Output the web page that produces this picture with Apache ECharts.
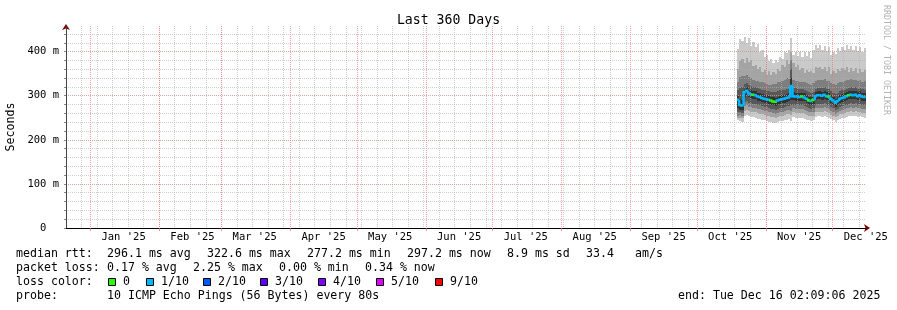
<!DOCTYPE html>
<html><head><meta charset="utf-8">
<script src="https://cdn.jsdelivr.net/npm/echarts@6/dist/echarts.min.js"></script>
<style>html,body{margin:0;padding:0;background:#fff}#c{width:897px;height:310px}</style>
</head><body><div id="c"></div><script>
const MONO = 'DejaVu Sans Mono';
const DAY = 86400000;

// ---- axis range and tick labels ----
const rangeStart = '2024-12-21T02:09:06Z';
const rangeEnd = '2025-12-16T02:09:06Z';
const monthStarts = ['2025-01-01','2025-02-01','2025-03-01','2025-04-01','2025-05-01','2025-06-01','2025-07-01','2025-08-01','2025-09-01','2025-10-01','2025-11-01','2025-12-01'];
const monthLabels = ["Jan '25","Feb '25","Mar '25","Apr '25","May '25","Jun '25","Jul '25","Aug '25","Sep '25","Oct '25","Nov '25","Dec '25"];
const firstWeekLine = '2024-12-28';
const yTickValues = [0, 100, 200, 300, 400];
const yTickLabels = ['0  ', '100 m', '200 m', '300 m', '400 m'];

// ---- data: one bin per day, sorted ping RTTs (ms) ----
const firstDay = '2025-10-19';
const ping1 = [244,242,241,254,256,253,252,251,250,248, 247,246,244,243,241,240,239,238,240,242, 243,244,246,247,243,251,250,250,249,250, 248,246,244,243,245,251,253,253,252,254, 251,250,247,244,241,244,248,249,250,252, 254,255,254,255,252,254,251,250];
const ping2 = [250,250,249,266,268,265,264,263,262,260, 259,258,256,255,253,252,251,250,252,254, 255,256,258,259,256,262,261,261,260,261, 259,257,254,253,255,262,264,264,263,265, 262,261,257,254,251,254,258,259,260,262, 264,265,264,265,262,264,261,260];
const ping3 = [255,256,255,276,278,275,274,273,272,270, 269,268,266,265,263,262,260,259,261,263, 264,265,267,268,266,271,270,270,269,270, 268,266,263,262,264,271,273,273,272,274, 271,270,266,263,259,262,266,268,269,271, 273,274,273,274,271,273,270,269];
const ping4 = [262,262,261,285,288,284,283,282,281,279, 278,276,275,274,272,270,269,268,270,272, 273,274,276,277,278,280,279,279,278,279, 277,275,271,270,272,280,282,282,281,283, 280,279,274,271,267,270,275,277,278,280, 282,283,282,283,280,282,279,278];
const ping5 = [272,268,267,298,301,296,294,293,292,289, 288,286,284,283,282,280,278,277,280,282, 283,284,286,287,290,290,289,289,288,289, 287,284,280,279,281,290,292,292,291,293, 290,289,283,280,275,279,284,286,287,290, 292,293,292,293,290,292,289,288];
const ping6 = [300,292,290,316,319,314,312,311,310,307, 306,304,302,301,300,298,296,295,298,300, 301,302,304,305,340,308,307,307,306,307, 305,302,298,297,299,308,310,310,309,311, 308,307,301,298,293,297,302,304,305,308, 310,311,310,311,308,310,307,306];
const ping7 = [312,318,320,326,328,324,322,320,319,317, 316,314,312,311,310,309,308,308,310,312, 313,314,316,316,360,318,317,316,315,315, 314,311,308,307,309,316,318,318,317,319, 316,315,310,307,303,307,311,313,314,316, 318,319,318,319,316,318,315,314];
const ping8 = [330,342,345,344,346,342,340,336,334,333, 331,330,328,326,325,324,326,327,330,332, 334,336,340,338,380,336,334,333,332,330, 331,328,327,325,328,334,336,335,336,337, 334,333,328,326,324,328,331,332,334,335, 336,337,335,336,333,335,332,333];
const ping9 = [360,378,384,374,386,376,380,368,370,360, 364,354,358,348,356,346,354,350,360,356, 370,366,380,372,400,374,366,370,358,362, 352,358,354,356,352,366,362,364,360,366, 356,364,350,356,352,360,356,362,358,364, 354,362,356,362,352,360,354,358];
const ping10 = [405,428,424,432,420,430,412,422,410,418, 400,404,388,392,378,384,374,382,376,388, 384,400,396,404,430,392,400,390,398,388, 398,390,400,386,404,416,408,414,404,412, 402,410,392,398,394,408,402,410,404,414, 406,412,404,413,402,410,400,408];
const medianRtt = [291,279,278,308,311,305,303,302,301,298, 297,295,293,292,291,289,287,286,289,291, 292,293,295,296,322,299,298,298,297,298, 296,293,289,288,290,299,301,301,300,302, 299,298,292,289,284,288,293,295,296,299, 301,302,301,302,299,301,298,297];
const lossCount = [1,1,1,1,1,1,1,0,1,1, 1,1,1,1,1,0,0,0,1,1, 1,1,1,1,1,1,1,1,1,0, 1,1,0,1,0,1,1,1,1,1, 1,0,1,1,1,1,1,1,1,1, 0,1,1,1,1,1,1,1];

// ---- legend texts ----
const lossLegendLabels = ['0','1/10','2/10','3/10','4/10','5/10','9/10'];
const lossColors = ['#26ff00','#00b8ff','#0059ff','#5e00ff','#7e00ff','#dd00ff','#ff0000'];
const rttStats = ['296.1 ms avg','322.6 ms max','277.2 ms min','297.2 ms now','8.9 ms sd','33.4','am/s'];
const lossStats = ['0.17 % avg','2.25 % max','0.00 % min','0.34 % now'];
const probeText = '10 ICMP Echo Pings (56 Bytes) every 80s';
const endText = 'end: Tue Dec 16 02:09:06 2025';
const smokeGrays = ['#cacaca','#a4a4a4','#7e7e7e','#585858','#323232'];

// ---- build ----
const tStart = Date.parse(rangeStart), tEnd = Date.parse(rangeEnd);
const d0 = Date.parse(firstDay + 'T00:00:00Z');
const monthTs = monthStarts.map(s => Date.parse(s + 'T00:00:00Z'));
const monthMid = monthTs.map(t => t + 15 * DAY);
const labelByTs = {};
monthMid.forEach((t, i) => { labelByTs[t] = monthLabels[i]; });
const weekTs = [];
for (let t = Date.parse(firstWeekLine + 'T00:00:00Z'); t < tEnd; t += 7 * DAY) weekTs.push(t);

const pings = [ping1,ping2,ping3,ping4,ping5,ping6,ping7,ping8,ping9,ping10];
const smokeData = medianRtt.map((_, k) => [d0 + k * DAY].concat(pings.map(p => p[k])));
const medData = medianRtt.map((m, k) => [d0 + k * DAY, m, lossCount[k]]);

const minorGrid = {color: 'rgba(175,175,175,0.6)', width: 1, type: [1, 1]};
const majorGrid = {color: 'rgba(255,90,90,0.55)', width: 1, type: [1, 1]};

const graphics = [];
function txt(x, y, s, extra) {
  graphics.push({type: 'text', x: x, y: y, silent: true,
    style: Object.assign({text: s, font: '11.6px "' + MONO + '"', fill: '#000', verticalAlign: 'middle', align: 'left'}, extra || {})});
}
txt(16, 254, 'median rtt:');
[107, 207, 307, 407, 507, 586, 635].forEach((x, i) => txt(x, 254, rttStats[i]));
txt(16, 268, 'packet loss:');
[107, 193, 279, 365].forEach((x, i) => txt(x, 268, lossStats[i]));
txt(16, 282, 'loss color:');
[108, 146, 203, 260, 318, 376, 435].forEach((x, i) => {
  graphics.push({type: 'rect', silent: true, shape: {x: x + 0.5, y: 278.5, width: 7, height: 7},
    style: {fill: lossColors[i], stroke: '#000', lineWidth: 1}});
  txt(x + 15, 282, lossLegendLabels[i]);
});
txt(16, 296, 'probe:');
txt(107, 296, probeText);
txt(678, 296, endText);
graphics.push({type: 'text', x: 886, y: 60, rotation: -Math.PI / 2, silent: true,
  style: {text: 'RRDTOOL / TOBI OETIKER', font: '8.3px "' + MONO + '"', fill: '#b4b4b4', align: 'center', verticalAlign: 'middle'}});

const hiddenAxis = {axisLine: {show: false}, axisLabel: {show: false}};
const chart = echarts.init(document.getElementById('c'), null, {renderer: 'canvas'});
chart.setOption({
  animation: false,
  backgroundColor: '#fff',
  title: {text: 'Last 360 Days', left: 'center', top: 9,
    textStyle: {fontFamily: MONO, fontSize: 13.2, fontWeight: 'normal', color: '#000'}},
  grid: {left: 66, top: 26, width: 800, height: 202, containLabel: false, outerBoundsMode: 'none'},
  xAxis: [{
    type: 'value', min: tStart, max: tEnd, z: 8,
    axisLine: {show: true, lineStyle: {color: '#000', width: 1}},
    axisTick: {show: true, customValues: monthTs, length: 3, lineStyle: {color: 'rgba(240,110,110,0.8)'}},
    axisLabel: {show: true, customValues: monthMid, margin: 4, color: '#000', fontFamily: MONO, fontSize: 10.5,
      formatter: v => labelByTs[v] || ''},
    splitLine: {show: false}
  }, {
    type: 'value', min: tStart, max: tEnd, z: 7,
    axisLine: {show: true, symbol: ['none', 'arrow'], symbolSize: [6, 6], symbolOffset: [0, 4], lineStyle: {color: '#7a0000', width: 1}},
    axisTick: {show: false}, axisLabel: {show: false}, splitLine: {show: false}, position: 'bottom'
  }, Object.assign({
    type: 'value', min: tStart, max: tEnd, z: 5,
    axisTick: {show: false, customValues: weekTs},
    splitLine: {show: true, lineStyle: minorGrid}
  }, hiddenAxis), Object.assign({
    type: 'value', min: tStart, max: tEnd, z: 6,
    axisTick: {show: false, customValues: monthTs},
    splitLine: {show: true, lineStyle: majorGrid}
  }, hiddenAxis)],
  yAxis: [{
    type: 'value', min: 0, max: 458, interval: 20, z: 8,
    name: 'Seconds', nameLocation: 'middle', nameRotate: 90, nameGap: 45,
    nameTextStyle: {fontFamily: MONO, fontSize: 11.6, color: '#000'},
    axisLine: {show: true, lineStyle: {color: '#444', width: 1}},
    axisTick: {show: true, length: 2, lineStyle: {color: '#888'}},
    axisLabel: {margin: 7, color: '#000', fontFamily: MONO, fontSize: 10.5, showMaxLabel: false,
      formatter: v => { const i = yTickValues.indexOf(v); return i >= 0 ? yTickLabels[i] : ''; }},
    splitLine: {show: true, showMinLine: false, showMaxLine: false, lineStyle: minorGrid}
  }, {
    type: 'value', min: 0, max: 458, z: 7, position: 'left',
    axisLine: {show: true, symbol: ['none', 'arrow'], symbolSize: [6, 6], symbolOffset: [0, 2], lineStyle: {color: '#7a0000', width: 1}},
    axisTick: {show: false}, axisLabel: {show: false}, splitLine: {show: false}
  }, Object.assign({
    type: 'value', min: 0, max: 458, interval: 100, z: 6,
    axisTick: {show: false},
    splitLine: {show: true, showMinLine: false, showMaxLine: false, lineStyle: majorGrid}
  }, hiddenAxis)],
  series: [{
    type: 'custom', name: 'smoke', z: 2, silent: true,
    data: smokeData,
    encode: {x: 0, y: [1, 10]},
    renderItem: (params, api) => {
      const t = api.value(0);
      const xa = Math.round(api.coord([t, 0])[0]);
      const xb = Math.round(api.coord([Math.min(t + DAY, tEnd), 0])[0]);
      const children = [];
      for (let b = 0; b < 5; b++) {
        const lo = api.value(1 + b), hi = api.value(10 - b);
        const ya = Math.round(api.coord([t, hi])[1]);
        const yb = Math.round(api.coord([t, lo])[1]);
        children.push({type: 'rect', shape: {x: xa, y: ya, width: xb - xa, height: yb - ya}, style: {fill: smokeGrays[b]}});
      }
      return {type: 'group', children: children};
    }
  }, {
    type: 'custom', name: 'median', z: 9, silent: true,
    data: medData,
    encode: {x: 0, y: 1},
    renderItem: (params, api) => {
      const i = params.dataIndex;
      const t = api.value(0), v = api.value(1);
      const pts = [];
      if (i > 0) pts.push(api.coord([t, medianRtt[i - 1]]));
      pts.push(api.coord([t, v]));
      pts.push(api.coord([Math.min(t + DAY, tEnd), v]));
      return {type: 'polyline', shape: {points: pts}, style: {stroke: lossColors[api.value(2)], lineWidth: 2.5, fill: null}};
    }
  }],
  graphic: graphics
});
</script></body></html>
